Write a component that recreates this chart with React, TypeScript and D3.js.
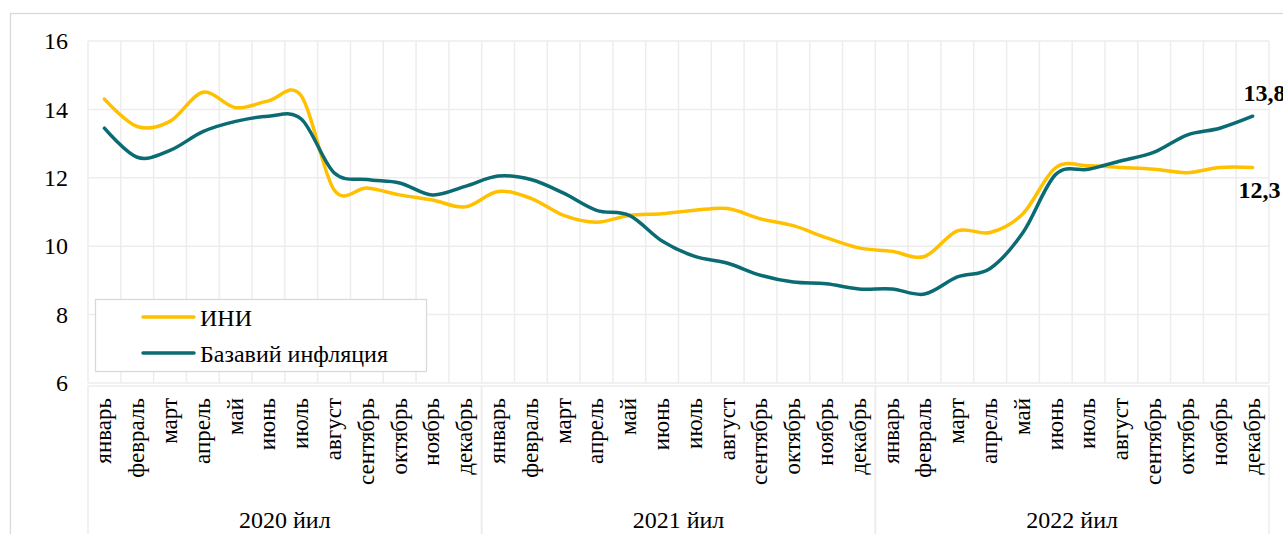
import { curveCatmullRom, line, scaleBand, scaleLinear } from 'd3';

const months = ['январь', 'февраль', 'март', 'апрель', 'май', 'июнь', 'июль', 'август', 'сентябрь', 'октябрь', 'ноябрь', 'декабрь'];
const years = ['2020 йил', '2021 йил', '2022 йил'];
const yTicks = [6, 8, 10, 12, 14, 16];

// ИНИ, Jan 2020 .. Dec 2022
const iniValues = [
  14.3, 13.5, 13.65, 14.5, 14.05, 14.25, 14.4, 11.65, 11.7, 11.5, 11.35, 11.15,
  11.6, 11.4, 10.9, 10.7, 10.9, 10.95, 11.05, 11.1, 10.8, 10.6, 10.25, 9.95,
  9.85, 9.7, 10.45, 10.4, 10.95, 12.3, 12.35, 12.3, 12.25, 12.15, 12.3, 12.3,
];
// Базавий инфляция
const coreValues = [
  13.45, 12.6, 12.8, 13.35, 13.65, 13.8, 13.72, 12.15, 11.95, 11.85, 11.5, 11.75,
  12.05, 11.95, 11.55, 11.05, 10.9, 10.15, 9.7, 9.5, 9.15, 8.95, 8.9, 8.75,
  8.75, 8.6, 9.1, 9.35, 10.4, 12.1, 12.25, 12.5, 12.75, 13.25, 13.45, 13.8,
];

const width = 1283;
const height = 534;
const plot = { left: 88, right: 1269, top: 41, bottom: 383 };
const font = 'Liberation Serif';
const gridColor = '#ededed';
const borderColor = '#d9d9d9';
const yellow = '#ffc000';
const teal = '#0b6b73';

const categories = years.flatMap(year => months.map(month => `${month} ${year}`));

export default function App() {
  const xScale = scaleBand<number>()
    .domain(categories.map((_, i) => i))
    .range([plot.left, plot.right])
    .padding(0);
  const bw = xScale.bandwidth();
  const cx = (i: number) => (xScale(i) ?? plot.left) + bw / 2;

  const yScale = scaleLinear().domain([6, 16]).range([plot.bottom, plot.top]);

  const path = line<number>()
    .x((_, i) => cx(i))
    .y(v => yScale(v))
    .curve(curveCatmullRom.alpha(0));

  const last = categories.length - 1;
  const fmt = (v: number) => v.toFixed(1).replace('.', ',');
  const boxTop = plot.bottom + 3;
  const txt = { fontFamily: font, fill: '#000' };

  return (
    <svg width={width} height={height} style={{ position: 'absolute', left: 0, top: 0, background: '#fff' }}>
      <rect x={10.5} y={13.5} width={1320} height={600} fill="#fff" stroke={borderColor} strokeWidth={1.3} />

      {/* grid */}
      {yTicks.map(t => (
        <line key={`h${t}`} x1={plot.left} x2={plot.right} y1={yScale(t)} y2={yScale(t)} stroke={gridColor} strokeWidth={1.5} />
      ))}
      {categories.map((_, i) => (
        <line key={`v${i}`} x1={xScale(i)} x2={xScale(i)} y1={plot.top} y2={plot.bottom} stroke={gridColor} strokeWidth={1.5} />
      ))}
      <line x1={plot.right} x2={plot.right} y1={plot.top} y2={plot.bottom} stroke={gridColor} strokeWidth={1.5} />

      {yTicks.map(t => (
        <text key={`t${t}`} x={68} y={yScale(t)} dy="0.34em" textAnchor="end" fontSize={24} {...txt}>{t}</text>
      ))}

      {/* category table */}
      <rect x={plot.left} y={boxTop} width={plot.right - plot.left} height={200} fill="none" stroke={gridColor} strokeWidth={1.5} />
      {years.map((year, yi) => {
        const x0 = xScale(yi * 12) ?? plot.left;
        const x1 = yi === years.length - 1 ? plot.right : (xScale((yi + 1) * 12) ?? plot.right);
        return (
          <g key={year}>
            {yi > 0 && <line x1={x0} x2={x0} y1={boxTop} y2={height} stroke={gridColor} strokeWidth={2} />}
            <text x={(x0 + x1) / 2} y={528} textAnchor="middle" fontSize={24} {...txt}>{year}</text>
          </g>
        );
      })}
      {categories.map((_, i) => (
        <text
          key={`m${i}`}
          transform={`translate(${cx(i)},398) rotate(-90)`}
          dy="0.3em"
          textAnchor="end"
          fontSize={23}
          {...txt}
        >
          {months[i % 12]}
        </text>
      ))}

      {/* series */}
      <path d={path(iniValues) ?? ''} fill="none" stroke={yellow} strokeWidth={3.5} strokeLinecap="round" />
      <path d={path(coreValues) ?? ''} fill="none" stroke={teal} strokeWidth={3.5} strokeLinecap="round" />

      <text x={cx(last) - 9} y={yScale(coreValues[last]) - 15} fontSize={24} fontWeight="bold" {...txt}>{fmt(coreValues[last])}</text>
      <text x={cx(last) - 14} y={yScale(iniValues[last]) + 30} fontSize={24} fontWeight="bold" {...txt}>{fmt(iniValues[last])}</text>

      {/* legend */}
      <rect x={95.5} y={299.5} width={331} height={72} fill="#fff" stroke={borderColor} strokeWidth={1.3} />
      <line x1={143} x2={194} y1={317} y2={317} stroke={yellow} strokeWidth={3.5} strokeLinecap="round" />
      <text x={200} y={326} fontSize={24} {...txt}>ИНИ</text>
      <line x1={143} x2={194} y1={353} y2={353} stroke={teal} strokeWidth={3.5} strokeLinecap="round" />
      <text x={200} y={362} fontSize={24} {...txt}>Базавий инфляция</text>
    </svg>
  );
}
